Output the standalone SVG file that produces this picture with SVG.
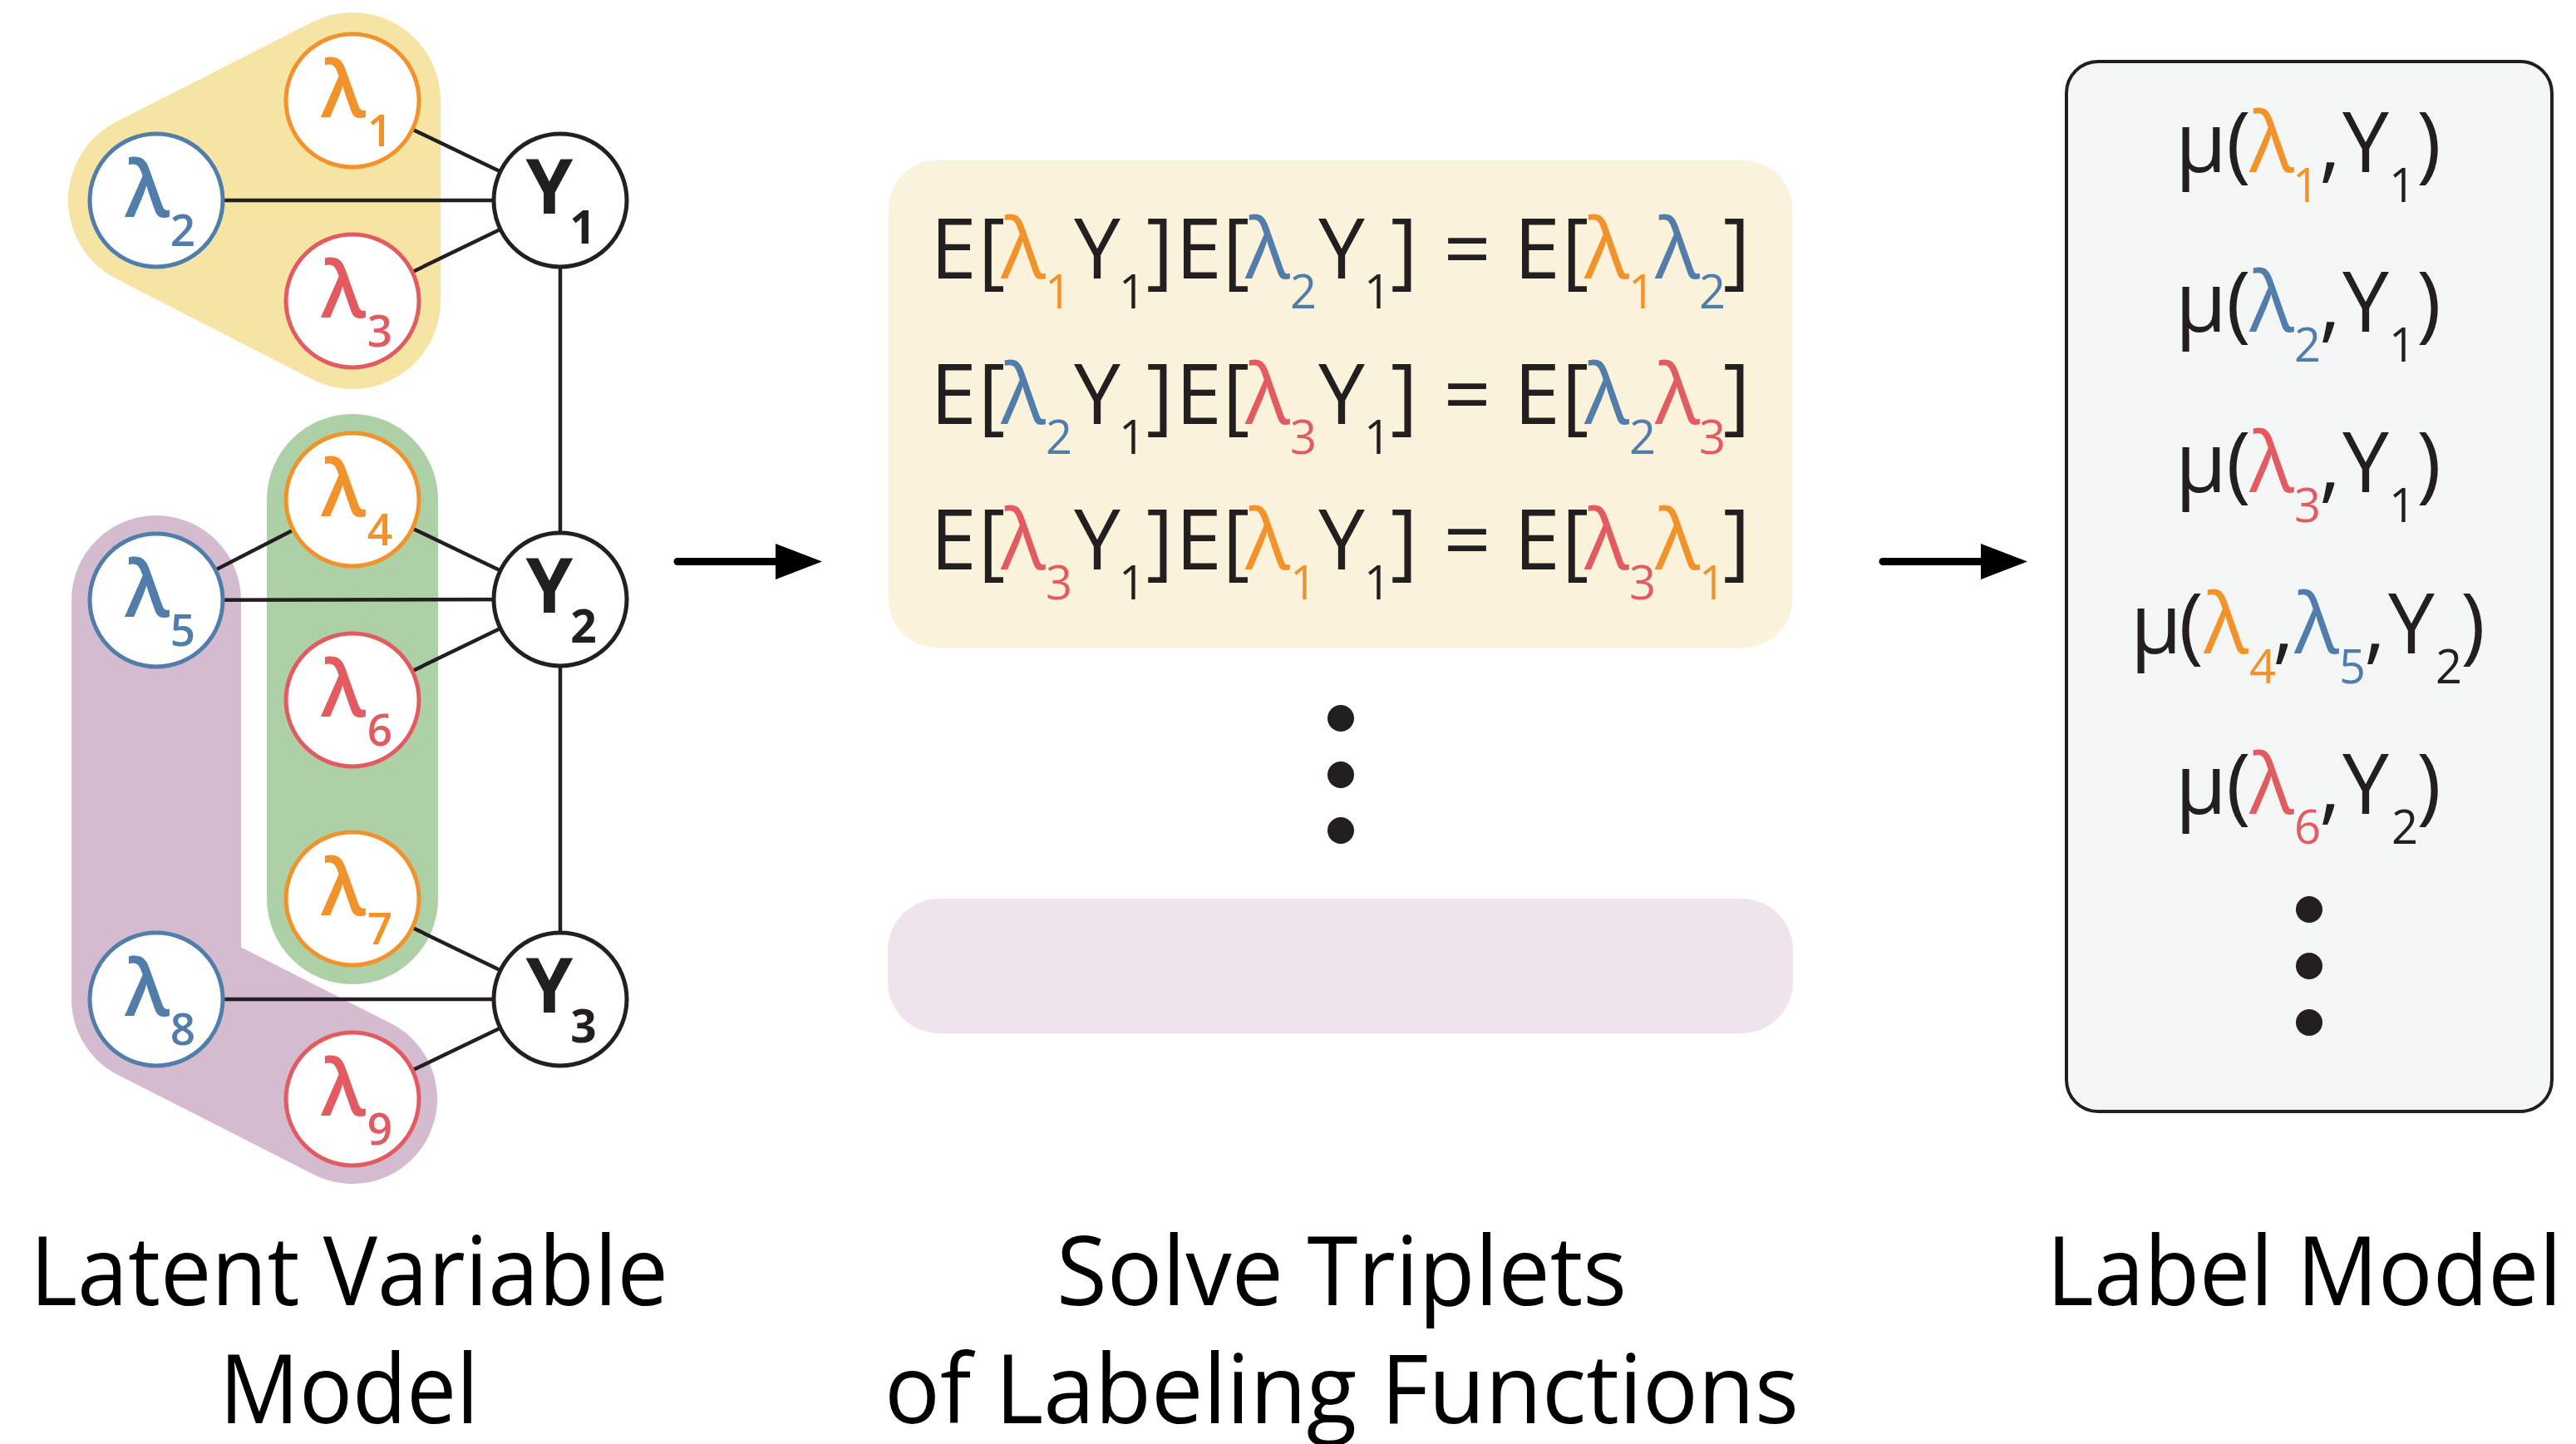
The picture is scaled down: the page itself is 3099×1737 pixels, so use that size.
<svg xmlns="http://www.w3.org/2000/svg" width="3099" height="1737" viewBox="0 0 3099 1737">
<style>
.t{font-family:"Open Sans","Noto Sans","DejaVu Sans",sans-serif;text-anchor:middle}
.eq{font-size:100px;fill:#231F20}
.s{font-size:56px}
.o{fill:#F2922A}.b{fill:#517DAA}.r{fill:#E25B61}.k{fill:#231F20}
.lam{fill:#fff;stroke-width:5}
.so{stroke:#F2922A}.sb{stroke:#517DAA}.sr{stroke:#E25B61}.sk{stroke:#231F20}
.nl{font-size:94px;font-weight:600}
.ns{font-size:53px;font-weight:600}
.ny{font-size:91px;font-weight:700;fill:#231F20}
.nys{font-size:55px;font-weight:700;fill:#231F20}
.edge{stroke:#231F20;stroke-width:4.5;fill:none}
.lbl{font-size:116px;fill:#000}
.dot{fill:#231F20}
</style>
<defs>
<marker id="ah" markerWidth="56" markerHeight="44" refX="0" refY="21.5" orient="auto" markerUnits="userSpaceOnUse"><path d="M0,0 L56,21.5 L0,43 Z" fill="#000"/></marker>
</defs>
<rect width="3099" height="1737" fill="#fff"/>

<g id="groups">
<polygon points="424,121 188,241 424,362" fill="#F5E4A3" stroke="#F5E4A3" stroke-width="212" stroke-linejoin="round"/>
<path d="M424,601 L424,1081" stroke="#ADD0A6" stroke-width="206" stroke-linecap="round" fill="none"/>
<path d="M188,722 L188,1202 L424,1322" stroke="#D4BBCF" stroke-width="204" stroke-linecap="round" stroke-linejoin="round" fill="none"/>
</g>

<g id="connectors">
<line class="edge" x1="424" y1="121" x2="674" y2="241"/>
<line class="edge" x1="188" y1="241" x2="674" y2="241"/>
<line class="edge" x1="424" y1="362" x2="674" y2="241"/>
<line class="edge" x1="674" y1="241" x2="674" y2="721"/>
<line class="edge" x1="424" y1="601" x2="674" y2="721"/>
<line class="edge" x1="188" y1="722" x2="674" y2="721"/>
<line class="edge" x1="424" y1="842" x2="674" y2="721"/>
<line class="edge" x1="424" y1="601" x2="188" y2="722"/>
<line class="edge" x1="674" y1="721" x2="674" y2="1202"/>
<line class="edge" x1="424" y1="1081" x2="674" y2="1202"/>
<line class="edge" x1="188" y1="1202" x2="674" y2="1202"/>
<line class="edge" x1="424" y1="1322" x2="674" y2="1202"/>
<line x1="815" y1="675.5" x2="933" y2="675.5" stroke="#000" stroke-width="9" stroke-linecap="round" marker-end="url(#ah)"/>
<line x1="2265" y1="675.5" x2="2383" y2="675.5" stroke="#000" stroke-width="9" stroke-linecap="round" marker-end="url(#ah)"/>
</g>

<g id="lambda1"><circle class="lam so" cx="424" cy="121" r="80"/><text class="t nl o" x="413" y="141">λ</text><text class="t ns o" x="457" y="176">1</text></g>
<g id="lambda2"><circle class="lam sb" cx="188" cy="241" r="80"/><text class="t nl b" x="177" y="261">λ</text><text class="t ns b" x="220" y="296">2</text></g>
<g id="lambda3"><circle class="lam sr" cx="424" cy="362" r="80"/><text class="t nl r" x="413" y="382">λ</text><text class="t ns r" x="457" y="417">3</text></g>
<g id="lambda4"><circle class="lam so" cx="424" cy="601" r="80"/><text class="t nl o" x="413" y="621">λ</text><text class="t ns o" x="457" y="656">4</text></g>
<g id="lambda5"><circle class="lam sb" cx="188" cy="722" r="80"/><text class="t nl b" x="177" y="742">λ</text><text class="t ns b" x="220" y="777">5</text></g>
<g id="lambda6"><circle class="lam sr" cx="424" cy="842" r="80"/><text class="t nl r" x="413" y="862">λ</text><text class="t ns r" x="457" y="897">6</text></g>
<g id="lambda7"><circle class="lam so" cx="424" cy="1081" r="80"/><text class="t nl o" x="413" y="1101">λ</text><text class="t ns o" x="457" y="1136">7</text></g>
<g id="lambda8"><circle class="lam sb" cx="188" cy="1202" r="80"/><text class="t nl b" x="177" y="1222">λ</text><text class="t ns b" x="220" y="1257">8</text></g>
<g id="lambda9"><circle class="lam sr" cx="424" cy="1322" r="80"/><text class="t nl r" x="413" y="1342">λ</text><text class="t ns r" x="457" y="1377">9</text></g>
<g id="Y1"><circle class="lam sk" cx="674" cy="241" r="80"/><text class="t ny" x="661" y="257">Y</text><text class="t nys" x="701" y="293">1</text></g>
<g id="Y2"><circle class="lam sk" cx="674" cy="721" r="80"/><text class="t ny" x="661" y="737">Y</text><text class="t nys" x="702" y="773">2</text></g>
<g id="Y3"><circle class="lam sk" cx="674" cy="1202" r="80"/><text class="t ny" x="661" y="1218">Y</text><text class="t nys" x="702" y="1254">3</text></g>

<g id="triplets">
<rect x="1069" y="193" width="1087" height="586" rx="58" fill="#FBF2DC"/>
<text class="t eq">
<tspan x="1147" y="335">E</tspan><tspan x="1193" y="335">[</tspan><tspan class="o" x="1231" y="335">λ</tspan><tspan class="s o" x="1273" y="371">1</tspan><tspan x="1320" y="335">Y</tspan><tspan class="s" x="1362" y="371">1</tspan><tspan x="1395" y="335">]</tspan><tspan x="1442" y="335">E</tspan><tspan x="1487" y="335">[</tspan><tspan class="b" x="1525" y="335">λ</tspan><tspan class="s b" x="1568" y="371">2</tspan><tspan x="1614" y="335">Y</tspan><tspan class="s" x="1657" y="371">1</tspan><tspan x="1689" y="335">]</tspan><tspan x="1765" y="335">=</tspan><tspan x="1849" y="335">E</tspan><tspan x="1895" y="335">[</tspan><tspan class="o" x="1933" y="335">λ</tspan><tspan class="s o" x="1975" y="371">1</tspan><tspan class="b" x="2018" y="335">λ</tspan><tspan class="s b" x="2060" y="371">2</tspan><tspan x="2089" y="335">]</tspan>
</text>
<text class="t eq">
<tspan x="1147" y="510">E</tspan><tspan x="1193" y="510">[</tspan><tspan class="b" x="1231" y="510">λ</tspan><tspan class="s b" x="1274" y="546">2</tspan><tspan x="1320" y="510">Y</tspan><tspan class="s" x="1362" y="546">1</tspan><tspan x="1395" y="510">]</tspan><tspan x="1442" y="510">E</tspan><tspan x="1487" y="510">[</tspan><tspan class="r" x="1525" y="510">λ</tspan><tspan class="s r" x="1568" y="546">3</tspan><tspan x="1614" y="510">Y</tspan><tspan class="s" x="1657" y="546">1</tspan><tspan x="1689" y="510">]</tspan><tspan x="1765" y="510">=</tspan><tspan x="1849" y="510">E</tspan><tspan x="1895" y="510">[</tspan><tspan class="b" x="1933" y="510">λ</tspan><tspan class="s b" x="1976" y="546">2</tspan><tspan class="r" x="2018" y="510">λ</tspan><tspan class="s r" x="2060" y="546">3</tspan><tspan x="2089" y="510">]</tspan>
</text>
<text class="t eq">
<tspan x="1147" y="685">E</tspan><tspan x="1193" y="685">[</tspan><tspan class="r" x="1231" y="685">λ</tspan><tspan class="s r" x="1274" y="721">3</tspan><tspan x="1320" y="685">Y</tspan><tspan class="s" x="1362" y="721">1</tspan><tspan x="1395" y="685">]</tspan><tspan x="1442" y="685">E</tspan><tspan x="1487" y="685">[</tspan><tspan class="o" x="1525" y="685">λ</tspan><tspan class="s o" x="1568" y="721">1</tspan><tspan x="1614" y="685">Y</tspan><tspan class="s" x="1657" y="721">1</tspan><tspan x="1689" y="685">]</tspan><tspan x="1765" y="685">=</tspan><tspan x="1849" y="685">E</tspan><tspan x="1895" y="685">[</tspan><tspan class="r" x="1933" y="685">λ</tspan><tspan class="s r" x="1976" y="721">3</tspan><tspan class="o" x="2018" y="685">λ</tspan><tspan class="s o" x="2060" y="721">1</tspan><tspan x="2089" y="685">]</tspan>
</text>
<circle class="dot" cx="1613" cy="864" r="16"/>
<circle class="dot" cx="1613" cy="932" r="16"/>
<circle class="dot" cx="1613" cy="999" r="16"/>
<rect x="1068" y="1081" width="1089" height="162" rx="62" fill="#EFE3EC"/>
</g>

<g id="labelmodel">
<rect x="2486" y="74" width="584" height="1263" rx="38" fill="#F4F6F5" stroke="#231F20" stroke-width="4"/>
<text class="t eq">
<tspan x="2648" y="207">μ</tspan><tspan x="2693" y="207">(</tspan><tspan class="o" x="2733" y="207">λ</tspan><tspan class="s o" x="2774" y="243">1</tspan><tspan x="2803" y="207">,</tspan><tspan x="2846" y="207">Y</tspan><tspan class="s" x="2890" y="243">1</tspan><tspan x="2922" y="207">)</tspan>
</text>
<text class="t eq">
<tspan x="2648" y="399">μ</tspan><tspan x="2693" y="399">(</tspan><tspan class="b" x="2733" y="399">λ</tspan><tspan class="s b" x="2776" y="435">2</tspan><tspan x="2803" y="399">,</tspan><tspan x="2846" y="399">Y</tspan><tspan class="s" x="2890" y="435">1</tspan><tspan x="2922" y="399">)</tspan>
</text>
<text class="t eq">
<tspan x="2648" y="592">μ</tspan><tspan x="2693" y="592">(</tspan><tspan class="r" x="2733" y="592">λ</tspan><tspan class="s r" x="2776" y="628">3</tspan><tspan x="2803" y="592">,</tspan><tspan x="2846" y="592">Y</tspan><tspan class="s" x="2890" y="628">1</tspan><tspan x="2922" y="592">)</tspan>
</text>
<text class="t eq">
<tspan x="2594" y="786">μ</tspan><tspan x="2636" y="786">(</tspan><tspan class="o" x="2678" y="786">λ</tspan><tspan class="s o" x="2722" y="822">4</tspan><tspan x="2747" y="786">,</tspan><tspan class="b" x="2787" y="786">λ</tspan><tspan class="s b" x="2830" y="822">5</tspan><tspan x="2857" y="786">,</tspan><tspan x="2901" y="786">Y</tspan><tspan class="s" x="2946" y="822">2</tspan><tspan x="2975" y="786">)</tspan>
</text>
<text class="t eq">
<tspan x="2648" y="979">μ</tspan><tspan x="2693" y="979">(</tspan><tspan class="r" x="2733" y="979">λ</tspan><tspan class="s r" x="2776" y="1015">6</tspan><tspan x="2803" y="979">,</tspan><tspan x="2846" y="979">Y</tspan><tspan class="s" x="2893" y="1015">2</tspan><tspan x="2922" y="979">)</tspan>
</text>
<circle class="dot" cx="2778" cy="1094" r="16"/>
<circle class="dot" cx="2778" cy="1162" r="16"/>
<circle class="dot" cx="2778" cy="1230" r="16"/>
</g>

<g id="labels">
<text class="t lbl" x="420" y="1570" textLength="768" lengthAdjust="spacingAndGlyphs">Latent Variable</text>
<text class="t lbl" x="420" y="1712" textLength="312" lengthAdjust="spacingAndGlyphs">Model</text>
<text class="t lbl" x="1614" y="1570" textLength="686" lengthAdjust="spacingAndGlyphs">Solve Triplets</text>
<text class="t lbl" x="1614" y="1712" textLength="1100" lengthAdjust="spacingAndGlyphs">of Labeling Functions</text>
<text class="t lbl" x="2772" y="1570" textLength="620" lengthAdjust="spacingAndGlyphs">Label Model</text>
</g>
</svg>
